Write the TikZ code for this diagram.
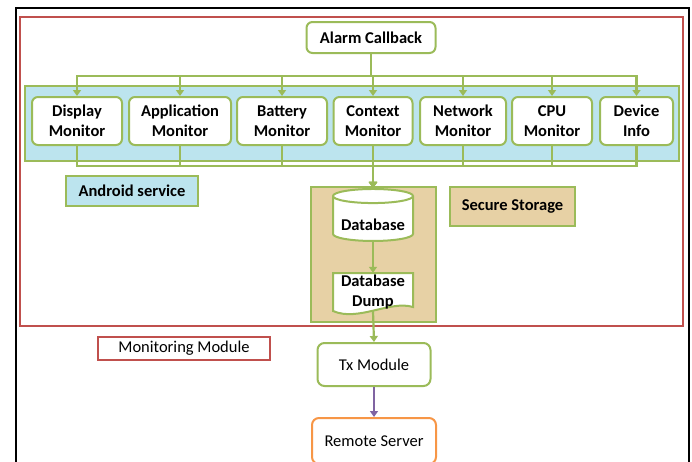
\documentclass[tikz,border=0pt]{standalone}
\usepackage{fontspec}
\setmainfont{Carlito}
\usetikzlibrary{shapes.geometric, positioning, arrows.meta}
\definecolor{OfficeGreen}{HTML}{9BBB59}
\definecolor{OfficeRed}{HTML}{C0504D}
\definecolor{OfficeOrange}{HTML}{F79646}
\definecolor{OfficePurple}{HTML}{8064A2}
\definecolor{WaterCyan}{HTML}{BCE4EE}
\definecolor{PaperTan}{HTML}{E7D1A5}

\begin{document}
\begin{tikzpicture}[x=1pt, y=-1pt,
    every node/.style={inner sep=0pt, font=\fontsize{16.5}{20}\selectfont},
    monbox/.style={draw=OfficeGreen, line width=2pt, fill=white, rounded corners=6pt,
        align=center, minimum height=48pt, font=\fontsize{16.5}{20}\selectfont\bfseries},
    tagbox/.style={draw=OfficeGreen, line width=2pt, font=\fontsize{16.5}{20}\selectfont\bfseries},
    flow/.style={draw=OfficeGreen, line width=2.2pt, -{Triangle[width=8pt,length=6pt]}}]
    \useasboundingbox (0,0) rectangle (692,461);

    % Frames
    \draw[line width=2.5pt] (16,470) -- (16,8) -- (689,8) -- (689,470);
    \draw[OfficeRed, line width=2pt] (20,17) rectangle (683,326);

    % Backgrounds
    \draw[OfficeGreen, line width=2pt, fill=WaterCyan] (25,86) rectangle (679,161);
    \draw[OfficeGreen, line width=2pt, fill=PaperTan] (311,187) rectangle (436,322);

    % Trigger
    \node[monbox, minimum width=129pt, minimum height=31pt] (alarm) at (371,37.5) {Alarm Callback};

    % Monitors
    \node[monbox, minimum width=90pt]  (disp) at (77,121)    {Display\\Monitor};
    \node[monbox, minimum width=102pt] (app)  at (180,121)   {Application\\Monitor};
    \node[monbox, minimum width=90pt]  (batt) at (282,121)   {Battery\\Monitor};
    \node[monbox, minimum width=79pt]  (ctx)  at (373,121)   {Context\\Monitor};
    \node[monbox, minimum width=86pt]  (net)  at (463,121)   {Network\\Monitor};
    \node[monbox, minimum width=80pt]  (cpu)  at (552,121)   {CPU\\Monitor};
    \node[monbox, minimum width=73pt]  (dev)  at (636.5,121) {Device\\Info};

    % Tags
    \node[tagbox, fill=WaterCyan, minimum width=132pt, minimum height=30pt] (android) at (132,191) {Android service};
    \node[tagbox, fill=PaperTan, minimum width=125pt, minimum height=39pt] (secure) at (512.5,206.5) {Secure Storage};
    \node[draw=OfficeRed, line width=2pt, fill=white, minimum width=172pt, minimum height=23pt] (monmod) at (184,348.5) {Monitoring Module};

    % Storage
    \node[cylinder, shape border rotate=90, aspect=0.22, draw=OfficeGreen, line width=2pt, fill=white,
        minimum width=80pt, minimum height=52pt, font=\fontsize{16.5}{20}\selectfont\bfseries] (db) at (373,219) {\smash{\raisebox{-11pt}{Database}}};
    \draw[OfficeGreen, line width=2pt, fill=white] (333,273) -- (413,273) -- (413,307)
        .. controls (390,300) and (358,322) .. (333,311) -- cycle;
    \node[align=center, minimum width=80pt, minimum height=38pt, font=\fontsize{16.5}{20}\selectfont\bfseries] (dump) at (373,292) {Database\\Dump};

    % Transmission
    \node[draw=OfficeGreen, line width=2pt, fill=white, rounded corners=7pt, minimum width=113pt, minimum height=43pt] (tx) at (374,364.5) {Tx Module};
    \node[draw=OfficeOrange, line width=2pt, fill=white, rounded corners=7pt, minimum width=124pt, minimum height=46pt] (remote) at (374,441) {Remote Server};

    % Connectors
    \coordinate (topbus) at (0,76);
    \coordinate (botbus) at (0,166);
    \foreach \m in {disp,app,batt,ctx,net,cpu,dev}
        \draw[flow] (alarm.south) |- (\m.north |- topbus) -- (\m.north);
    \foreach \m in {disp,app,batt,ctx,net,cpu,dev}
        \draw[flow] (\m.south) |- (db.north |- botbus) -- (db.north);
    \draw[flow] (db.south) -- (dump.north);
    \draw[flow] (dump.south) -- (tx.north);
    \draw[flow, draw=OfficePurple] (tx.south) -- (remote.north);
\end{tikzpicture}
\end{document}
